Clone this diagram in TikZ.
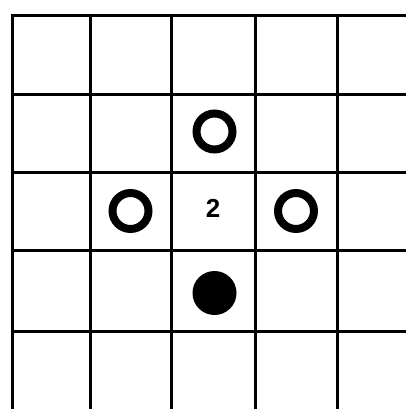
\documentclass[tikz,border=0pt]{standalone}
\usepackage{fontspec}
\setmainfont{Liberation Sans}
\newcommand{\bignum}[1]{{\fontsize{26pt}{28pt}\selectfont\bfseries #1}}
\begin{document}
\begin{tikzpicture}[x=1pt,y=-1pt,
  gridline/.style={line width=3pt,line cap=rect},
  ring/.style={circle,draw,line width=8pt,minimum size=36pt,inner sep=0pt},
  stone/.style={circle,fill=black,minimum size=44pt,inner sep=0pt},
  num/.style={inner sep=0pt}]
\useasboundingbox (0,0) rectangle (406,409);
\fill[white] (0,0) rectangle (406,409);
\foreach \x in {12,90,171,255,337} \draw[gridline] (\x,16) -- (\x,412);
\foreach \y in {16,95,172,250,331} \draw[gridline] (12,\y) -- (410,\y);
\node[ring] (top) at (214.5,131.5) {};
\node[ring] (left) at (130.5,211) {};
\node[ring] (right) at (296,211) {};
\node[stone] (bottom) at (214.5,293) {};
\node[num] (two) at (213,208) {\bignum{2}};
\end{tikzpicture}
\end{document}
